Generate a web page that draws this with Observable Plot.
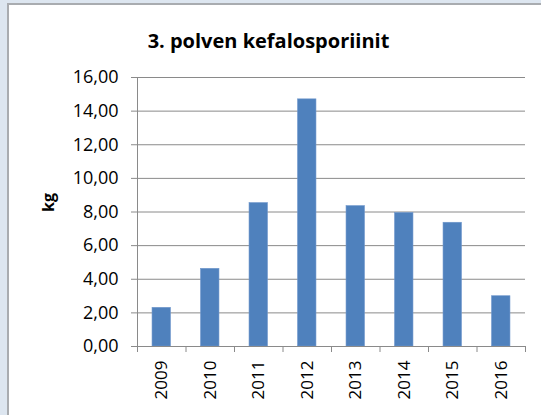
<!DOCTYPE html>
<html>
<head>
<meta charset="utf-8">
<script src="https://cdn.jsdelivr.net/npm/d3@7"></script>
<script src="https://cdn.jsdelivr.net/npm/@observablehq/plot@0.6"></script>
<style>
  html, body { margin: 0; padding: 0; background: #dde6f0; }
  #wrap { position: relative; width: 541px; height: 415px; overflow: hidden; background: #dde6f0; }
  #panel { position: absolute; left: 7px; top: 3px; width: 540px; height: 420px; background: #fff;
           border-left: 2px solid #a9acb0; border-top: 2px solid #a9acb0; box-sizing: border-box; }
  #title { position: absolute; left: 0; width: 537px; top: 27px; text-align: center;
           font: bold 20px "Open Sans", sans-serif; color: #000; }
  #chart { position: absolute; left: 0; top: 0; }
</style>
</head>
<body>
<div id="wrap">
  <div id="panel"></div>
  <div id="title">3. polven kefalosporiinit</div>
  <div id="chart"></div>
</div>
<script>
const years = [2009, 2010, 2011, 2012, 2013, 2014, 2015, 2016];
const values = [2.30, 4.62, 8.53, 14.70, 8.35, 7.94, 7.36, 2.99];
const yTicks = [0, 2, 4, 6, 8, 10, 12, 14, 16];
const gridTicks = [2, 4, 6, 8, 10, 12, 14, 16];
const bandEdges = [2008.5, 2009.5, 2010.5, 2011.5, 2012.5, 2013.5, 2014.5, 2015.5, 2016.5];
const barHalf = 0.19;

const data = years.map((y, i) => ({year: y, value: values[i]}));
const fmt = d => d.toFixed(2).replace(".", ",");
const gridColor = "#8a8a8a";

const chart = Plot.plot({
  width: 541,
  height: 415,
  marginLeft: 137,
  marginRight: 16,
  marginTop: 77,
  marginBottom: 69,
  style: {background: "transparent", fontFamily: "Open Sans, sans-serif", fontSize: "16px", color: "#000"},
  x: {type: "linear", domain: [2008.5, 2016.5], axis: null},
  y: {domain: [0, 16], axis: null},
  marks: [
    Plot.ruleY(gridTicks, {stroke: gridColor, strokeWidth: 1}),
    Plot.rectY(data, {x1: d => d.year - barHalf, x2: d => d.year + barHalf, y: "value", fill: "#4f81bd", stroke: "#6f97cc", strokeWidth: 0.6}),
    Plot.ruleY([0], {stroke: gridColor, strokeWidth: 1}),
    Plot.ruleX([2008.5], {stroke: gridColor, strokeWidth: 1}),
    Plot.axisY(yTicks, {tickFormat: fmt, tickSize: 6, tickPadding: 13, stroke: gridColor, fontSize: 18, label: null}),
    Plot.axisX(bandEdges, {tickSize: 6, tickFormat: () => "", stroke: gridColor, label: null}),
    Plot.axisX(years, {tickSize: 0, tickPadding: 14, tickRotate: -90, tickFormat: d => String(d), fontSize: 17, label: null}),
    Plot.text(["kg"], {frameAnchor: "left", dx: -89, dy: 0, rotate: -90, fontWeight: "bold", fontSize: 16})
  ]
});
document.getElementById("chart").appendChild(chart);
</script>
</body>
</html>
